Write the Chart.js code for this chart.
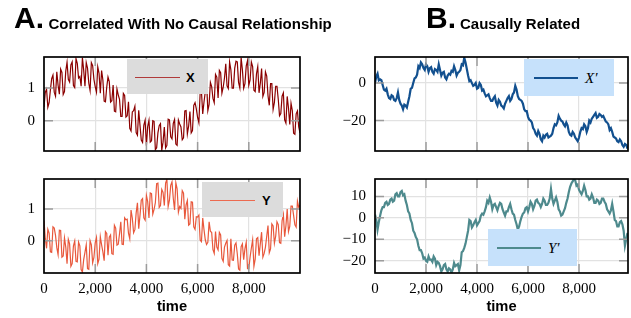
<!DOCTYPE html>
<html><head><meta charset="utf-8">
<script src="https://cdn.jsdelivr.net/npm/chart.js@4.4.0/dist/chart.umd.min.js"></script>
<style>
html,body{margin:0;padding:0;background:#fff;}
#wrap{position:relative;width:631px;height:318px;overflow:hidden;background:#fff;}
canvas{position:absolute;left:0;top:0;}
.t{position:absolute;font-family:"Liberation Sans",Arial,sans-serif;font-weight:bold;color:#000;white-space:nowrap;line-height:1;}
.leg{position:absolute;}
.ln{position:absolute;}
.lb{position:absolute;white-space:nowrap;color:#000;}
</style></head><body>
<div id="wrap">
<canvas id="cX" width="631" height="318"></canvas>
<canvas id="cY" width="631" height="318"></canvas>
<canvas id="cXp" width="631" height="318"></canvas>
<canvas id="cYp" width="631" height="318"></canvas>

<div class="t" style="left:14px;top:3px;font-size:30px">A.</div>
<div class="t" style="left:48.5px;top:15.6px;font-size:15px">Correlated With No Causal Relationship</div>
<div class="t" style="left:426px;top:3px;font-size:30px">B.</div>
<div class="t" style="left:460px;top:15.6px;font-size:15px">Causally Related</div>

<div class="leg" style="left:127px;top:59px;width:81px;height:35px;background:#dcdcdc">
  <div class="ln" style="left:8px;top:18px;width:45px;height:1px;background:#b03a3a"></div>
  <div class="lb" style="left:59px;top:9.5px;font:bold 13px 'Liberation Sans',sans-serif;line-height:17px">X</div>
</div>
<div class="leg" style="left:202px;top:182px;width:81px;height:35px;background:#dcdcdc">
  <div class="ln" style="left:8px;top:18px;width:45px;height:1px;background:#ec6a50"></div>
  <div class="lb" style="left:60px;top:9.5px;font:bold 13px 'Liberation Sans',sans-serif;line-height:17px">Y</div>
</div>
<div class="leg" style="left:524px;top:59px;width:90px;height:37px;background:#c6e1fb">
  <div class="ln" style="left:10px;top:18px;width:44px;height:2px;background:#12508f"></div>
  <div class="lb" style="left:61px;top:10px;font:italic 15px 'Liberation Serif',serif;line-height:18px">X′</div>
</div>
<div class="leg" style="left:488px;top:229px;width:89px;height:37px;background:#c6e1fb">
  <div class="ln" style="left:9px;top:17.5px;width:44px;height:2px;background:#4e8a8d"></div>
  <div class="lb" style="left:60px;top:9.5px;font:italic 15px 'Liberation Serif',serif;line-height:18px">Y′</div>
</div>
</div>
<script>
// ---- data ----
const SAMPLE_STEP = 50; // time units between samples
const xTicks = [0, 2000, 4000, 6000, 8000];
const yTicksA = [0, 1];
const yTicksXp = [-20, 0];
const yTicksYp = [-20, -10, 0, 10];

const seriesX = [0.42,0.86,0.96,0.41,0.55,0.94,1.28,1.39,0.87,0.75,
1.49,1.08,0.81,1.57,1.47,0.80,0.89,1.51,1.78,1.26,
1.18,1.70,1.79,1.07,1.01,1.89,1.75,1.30,1.35,1.05,
1.92,1.54,1.05,1.77,1.6,1.14,0.92,1.77,1.68,1.26,
1.04,0.87,1.64,1.44,0.84,1.53,1.24,0.60,0.58,1.02,
1.33,1.19,0.57,0.61,1.09,0.29,0.27,0.97,0.79,0.65,
0.13,0.13,0.83,0.77,0.11,0.15,0.58,-0.23,-0.31,0.27,
0.31,0.44,-0.36,-0.44,0.32,-0.14,-0.59,-0.66,-0.13,0.02,
-0.76,-0.18,0.01,-0.65,-0.61,0.0,-0.02,-0.88,-0.82,-0.37,
-0.15,-0.09,-0.9,-0.65,-0.19,-0.83,-0.75,0.05,0.03,-0.49,
-0.55,-0.08,0.04,-0.71,-0.75,0.02,-0.1,-0.19,-0.58,-0.52,
0.3,0.31,-0.4,-0.16,0.28,-0.37,-0.3,0.47,0.55,0.36,
0.1,-0.06,0.85,0.90,0.21,0.57,0.88,1.16,0.31,0.50,
1.17,1.04,0.68,0.55,1.41,1.33,0.69,1.53,1.46,0.84,
1.02,1.30,1.73,1.06,0.98,1.79,1.55,0.99,0.99,1.60,
1.81,1.79,1.17,1.00,1.92,1.55,0.99,1.13,1.67,1.83,
1.08,1.24,1.79,1.65,0.93,0.89,1.43,1.65,0.85,1.14,
1.59,0.74,0.86,1.49,1.36,0.76,0.47,1.13,1.13,0.35,
0.56,1.05,1.05,0.66,0.15,0.22,0.75,0.85,0.03,-0.07,
0.74,0.39,-0.11,0.53,0.31,-0.38,-0.41,0.21,0.3,-0.19,
-0.37];

const seriesY = [0.64,0.08,-0.24,0.36,0.24,-0.35,-0.37,0.44,0.40,0.17,
-0.22,-0.44,0.33,0.32,-0.52,-0.48,0.09,-0.20,-0.73,0.04,
-0.1,-0.81,-0.72,-0.16,-0.01,-0.65,-0.67,-0.04,-0.16,-0.91,
-0.99,-0.60,-0.37,-0.13,-0.88,-0.90,0.0,-0.13,-0.7,-0.53,
-0.07,0.10,-0.72,-0.58,0.13,-0.13,-0.35,-0.63,0.29,0.23,
-0.46,0.11,0.18,-0.41,-0.43,0.49,0.4,-0.14,-0.11,0.22,
0.6,-0.11,-0.12,0.72,0.66,0.68,0.24,0.06,0.97,0.71,
0.25,0.35,0.88,1.20,0.38,0.80,1.28,1.33,0.72,0.65,
1.43,1.24,0.72,1.51,1.49,0.84,0.99,1.20,1.8,1.82,
1.05,1.11,1.62,1.53,1.11,1.82,1.94,1.08,1.28,1.75,
1.86,1.34,0.97,1.83,1.64,0.90,1.08,1.02,1.58,1.50,
0.68,1.13,1.27,0.49,0.53,1.23,1.22,0.44,0.36,0.76,
0.75,0.81,0.02,-0.03,0.72,0.35,0.03,-0.12,-0.05,0.60,
0.3,0.26,-0.28,-0.40,0.29,-0.20,-0.29,0.26,0.18,-0.56,
-0.65,-0.20,-0.08,0.01,-0.76,-0.80,0.06,-0.61,-0.62,-0.14,
-0.07,-0.41,-0.89,-0.93,-0.19,-0.10,-0.6,-0.25,-0.05,-0.88,
-0.88,-0.52,-0.23,0.03,-0.81,-0.58,0.06,0.10,-0.47,-0.09,
0.27,-0.52,-0.4,-0.20,0.14,0.48,-0.38,-0.26,0.53,0.47,
-0.08,0.14,0.6,0.51,-0.06,-0.08,0.63,0.83,0.13,0.47,
1.0,0.29,0.45,1.09,1.09,0.80,0.5,0.43,1.25,1.06,
1.12];

const seriesXp = [0,3.5,5,1.5,2,1.5,-1,-3.5,-4,-3,
-6,-8,-8.5,-6.5,-7,-9,-9.5,-8,-5,-9,
-11,-12,-14,-11.5,-12,-13,-10,-7,-3,-2.5,
0,2.5,3,4.5,9,8,11,10,8,7,
10,9,6,8,8.5,6,5,7.5,7,6,
10,7,4,5.5,6,3,2,4,5,4.5,
6.5,6,9,7,4,5.5,6,7,10,9.5,
13.5,11,7.5,4,1,1.5,0,-1.5,-1,0,
-3,-2.5,0,-1,-4,-3.5,-5.5,-7,-6.5,-6,
-8,-9.5,-9.5,-8,-7,-10.5,-12,-9,-10,-12,
-12.5,-13.5,-11,-9.5,-8,-7,-9.5,-8.5,-6,-5,
-1.5,-3.5,-7,-8.5,-9,-9.5,-11,-14,-15,-15,
-18,-19.5,-20,-21,-24,-25,-27,-28,-25.5,-27,
-30,-31,-28,-29,-27.5,-27,-29,-28.5,-28,-27,
-24,-22,-22.5,-21,-17.5,-19,-20,-20.5,-22,-23,
-21,-22.5,-26,-27.5,-28,-26,-27,-29,-30,-31,
-29,-26,-24,-24.5,-22,-23,-26,-24,-20,-21,
-19,-18,-17,-16,-18.5,-18,-16.5,-17,-18,-17.5,
-19,-20.5,-21,-22,-25,-24,-26,-28.5,-29,-29.5,
-31,-31.5,-30,-31,-33,-34,-32.5,-33,-35];

const seriesYp = [1.5,-1,-5.5,-2,1,3.5,5,5,7,7.5,
6,6.5,8.5,9,7.5,8,11,11.5,10,10,
12,12.5,10.5,11,8,6,3,2,-1,-2.5,
-6,-7,-9,-10,-13,-15,-15,-16.5,-19,-18.5,
-20,-20.5,-18,-19.5,-19.5,-20.5,-18,-19,-22,-20.5,
-21,-22.5,-25,-24,-22,-21.5,-24,-25,-23.5,-24,
-25.5,-24,-21,-22.5,-22,-21.5,-24.5,-22,-16,-15.5,
-14,-12,-9,-6,-1,-1.5,-4.5,-3.5,-2,-1,
-3.5,-2.5,-1.5,1,2,1.5,3,5,8,7,
9.5,7.5,4,6,6.5,5,3.5,5.5,7,6.5,
4,2.5,1,3,3,5,6.5,4,2,1.5,
-1,-3,-5.5,-4,-1.5,0.5,2,2.5,4.5,5,
3,5,7.5,6.5,4,5.5,8,8.5,7,6.5,
5,6.5,9,8,6,6,7,9,13.5,9,
6.5,8,9.5,7.5,4,3,1,1.5,3,4.5,
7,9,12,14.5,16,17,18,17.5,15,15.5,
13,12,11,12.5,15,13,10,10,8.5,9,
11,9.5,7,7,8.5,8,6.5,7,9,9,
7.5,6.5,4,3,2,3.5,6.5,3,-1,-1.5,
-4,-4,-2,-1.5,-3,-6,-13,-10,-7];

// ---- drawing ----
const framePlugin = {
  id: 'frame',
  afterDraw(chart) {
    const {ctx, chartArea: a, scales: {x, y}} = chart;
    const L = 9;
    ctx.save();
    ctx.strokeStyle = '#9c9c9c';
    ctx.lineWidth = 1.5;
    ctx.beginPath();
    x.ticks.forEach(t => {
      const px = x.getPixelForValue(t.value);
      if (px <= a.left + 1 || px >= a.right - 1) return;
      ctx.moveTo(px, a.bottom); ctx.lineTo(px, a.bottom - L);
      ctx.moveTo(px, a.top); ctx.lineTo(px, a.top + L);
    });
    y.ticks.forEach(t => {
      const py = y.getPixelForValue(t.value);
      if (py <= a.top + 1 || py >= a.bottom - 1) return;
      ctx.moveTo(a.left, py); ctx.lineTo(a.left + L, py);
      ctx.moveTo(a.right, py); ctx.lineTo(a.right - L, py);
    });
    ctx.stroke();
    ctx.strokeStyle = '#000';
    ctx.lineWidth = 1.7;
    ctx.strokeRect(a.left, a.top, a.right - a.left, a.bottom - a.top);
    ctx.restore();
  }
};

const fmtY = v => (v < 0 ? '\u2212' + Math.abs(v) : String(v));

function makeChart(id, c) {
  return new Chart(document.getElementById(id), {
    type: 'line',
    data: {
      datasets: [{
        data: c.values.map((v, i) => ({x: i * SAMPLE_STEP, y: v})),
        borderColor: c.color, borderWidth: c.lw, pointRadius: 0, tension: 0, fill: false
      }]
    },
    options: {
      responsive: false, animation: false, devicePixelRatio: 1,
      layout: {padding: c.pad},
      plugins: {legend: {display: false}, tooltip: {enabled: false}},
      scales: {
        x: {
          type: 'linear', min: 0, max: c.xmax,
          afterBuildTicks: s => { s.ticks = xTicks.map(v => ({value: v})); },
          afterFit: s => { s.height = c.xh; },
          grid: {color: '#e2e2e2', lineWidth: 1.2, drawTicks: false},
          border: {display: false},
          ticks: {display: c.showX, padding: 7, autoSkip: false, maxRotation: 0,
            font: {family: '"Liberation Serif", serif', size: 15}, color: '#000',
            callback: v => v.toLocaleString('en-US')},
          title: {display: c.showX, text: 'time', color: '#000',
            font: {family: '"Liberation Sans", sans-serif', size: 14.7, weight: 'bold'},
            padding: {top: 0, bottom: 2}}
        },
        y: {
          min: c.ymin, max: c.ymax,
          afterBuildTicks: s => { s.ticks = c.yTicks.map(v => ({value: v})); },
          afterFit: s => { s.width = 44; },
          grid: {color: '#e2e2e2', lineWidth: 1.2, drawTicks: false},
          border: {display: false},
          ticks: {padding: 9, font: {family: '"Liberation Serif", serif', size: 15}, color: '#000',
            callback: fmtY}
        }
      }
    },
    plugins: [framePlugin]
  });
}

makeChart('cX', {values: seriesX, color: '#8b0000', lw: 1.2, xmax: 10000, ymin: -0.92, ymax: 1.94,
  yTicks: yTicksA, showX: false, xh: 0, pad: {left: 0, right: 331, top: 57, bottom: 167}});
makeChart('cY', {values: seriesY, color: '#e8583c', lw: 1.2, xmax: 10000, ymin: -1.02, ymax: 1.95,
  yTicks: yTicksA, showX: true, xh: 45, pad: {left: 0, right: 331, top: 179, bottom: 0}});
makeChart('cXp', {values: seriesXp, color: '#12508f', lw: 2.2, xmax: 9920, ymin: -36.2, ymax: 13.9,
  yTicks: yTicksXp, showX: false, xh: 0, pad: {left: 331, right: 3, top: 57, bottom: 167}});
makeChart('cYp', {values: seriesYp, color: '#4e8a8d', lw: 2.2, xmax: 9920, ymin: -25.7, ymax: 18.1,
  yTicks: yTicksYp, showX: true, xh: 45, pad: {left: 331, right: 3, top: 179, bottom: 0}});
</script>
</body></html>
